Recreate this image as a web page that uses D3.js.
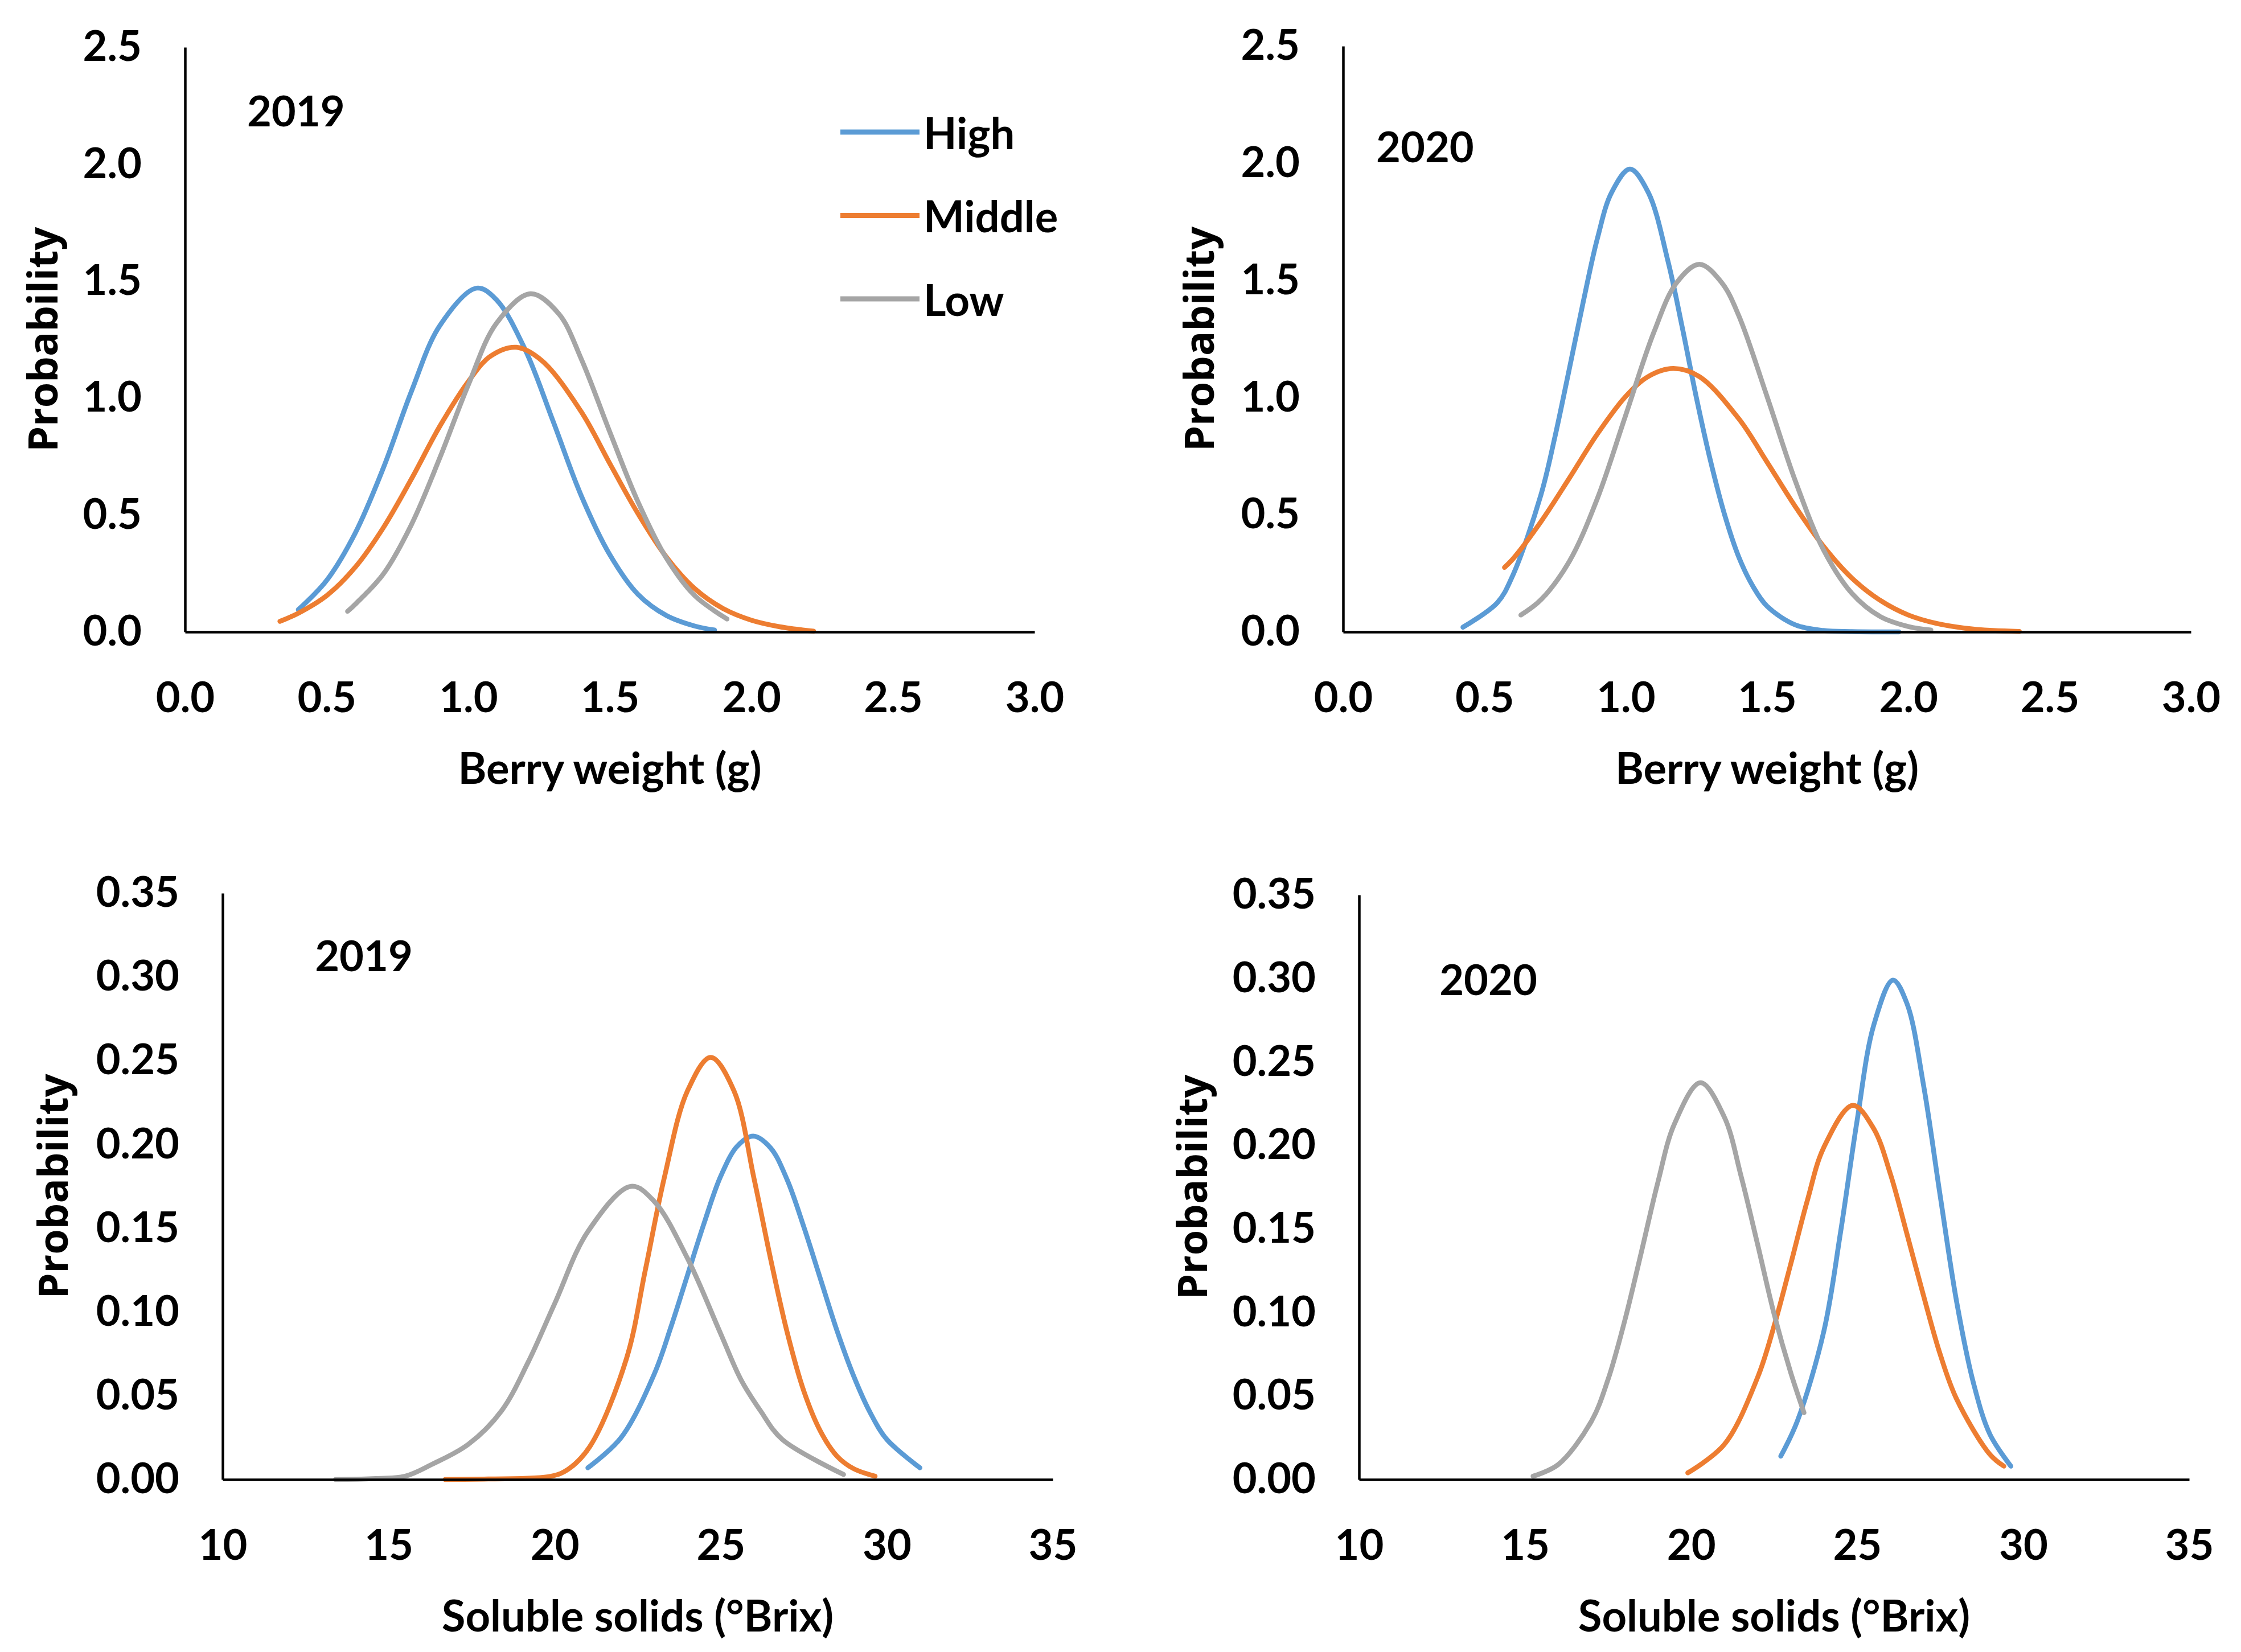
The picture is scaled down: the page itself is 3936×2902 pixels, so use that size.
<!DOCTYPE html>
<html>
<head>
<meta charset="utf-8">
<script src="https://cdnjs.cloudflare.com/ajax/libs/d3/7.8.5/d3.min.js"></script>
<style>
  body { margin: 0; background: #fff; }
  svg { display: block; }
</style>
</head>
<body>
<svg id="chart"></svg>
<script>
// series names + colours
const seriesNames = ["High", "Middle", "Low"];
const seriesColors = ["#5B9BD5", "#ED7D31", "#A5A5A5"];

// tick labels
const bwXTicks = [0, 0.5, 1.0, 1.5, 2.0, 2.5, 3.0];
const bwYTicks = [0, 0.5, 1.0, 1.5, 2.0, 2.5];
const ssXTicks = [10, 15, 20, 25, 30, 35];
const ssYTicks = [0, 0.05, 0.10, 0.15, 0.20, 0.25, 0.30, 0.35];

// berry weight 2019  [g, probability]
const bw2019High = [[0.40,0.095],[0.50,0.22],[0.60,0.42],[0.70,0.70],[0.80,1.03],[0.90,1.31],[1.03,1.47],[1.10,1.42],[1.20,1.21],[1.30,0.90],[1.40,0.58],[1.50,0.33],[1.60,0.16],[1.70,0.07],[1.80,0.025],[1.87,0.008]];
const bw2019Middle = [[0.335,0.045],[0.40,0.08],[0.50,0.155],[0.60,0.275],[0.70,0.445],[0.80,0.655],[0.90,0.88],[1.00,1.07],[1.08,1.18],[1.17,1.217],[1.26,1.16],[1.40,0.94],[1.50,0.72],[1.60,0.505],[1.70,0.32],[1.80,0.185],[1.90,0.10],[2.00,0.05],[2.10,0.022],[2.22,0.003]];
const bw2019Low = [[0.574,0.088],[0.60,0.117],[0.70,0.247],[0.80,0.46],[0.90,0.745],[1.00,1.055],[1.10,1.32],[1.22,1.446],[1.32,1.36],[1.40,1.165],[1.50,0.855],[1.60,0.555],[1.70,0.315],[1.80,0.155],[1.914,0.055]];

// berry weight 2020
const bw2020High = [[0.424,0.02],[0.546,0.125],[0.60,0.24],[0.70,0.585],[0.75,0.835],[0.80,1.12],[0.85,1.41],[0.90,1.68],[0.95,1.875],[1.015,1.975],[1.08,1.875],[1.15,1.58],[1.20,1.30],[1.25,1.00],[1.30,0.73],[1.35,0.50],[1.40,0.32],[1.45,0.195],[1.50,0.11],[1.60,0.03],[1.70,0.006],[1.80,0.001],[1.967,0]];
const bw2020Middle = [[0.571,0.275],[0.60,0.31],[0.70,0.47],[0.80,0.655],[0.90,0.845],[1.00,1.005],[1.08,1.09],[1.168,1.124],[1.26,1.09],[1.40,0.91],[1.50,0.725],[1.60,0.535],[1.70,0.365],[1.80,0.23],[1.90,0.135],[2.00,0.072],[2.10,0.036],[2.20,0.016],[2.30,0.006],[2.393,0.002]];
const bw2020Low = [[0.629,0.072],[0.70,0.137],[0.80,0.30],[0.90,0.57],[1.00,0.925],[1.10,1.28],[1.18,1.49],[1.261,1.569],[1.34,1.49],[1.40,1.35],[1.50,1.005],[1.60,0.645],[1.70,0.35],[1.80,0.165],[1.90,0.066],[2.00,0.023],[2.08,0.008]];

// soluble solids 2019  [°Brix, probability]
const ss2019High = [[21.0,0.007],[22,0.025],[23,0.063],[23.5,0.091],[24,0.122],[24.5,0.153],[25,0.181],[25.5,0.199],[25.98,0.205],[26.5,0.198],[27,0.179],[27.5,0.151],[28,0.120],[28.5,0.089],[29,0.062],[29.5,0.040],[30,0.024],[31,0.007]];
const ss2019Middle = [[16.7,0],[18,0.0003],[19.9,0.002],[20.4,0.006],[21.07,0.020],[22.16,0.072],[22.73,0.125],[23.3,0.18],[24,0.232],[24.7,0.252],[25.4,0.232],[26,0.18],[26.5,0.132],[27,0.088],[27.5,0.053],[28,0.029],[28.5,0.014],[29,0.0065],[29.65,0.002]];
const ss2019Low = [[13.4,0],[14.5,0.0005],[15.5,0.002],[16.3,0.009],[17.4,0.021],[18.4,0.041],[19.2,0.070],[20,0.105],[21,0.148],[22.3,0.175],[23,0.166],[24,0.132],[25,0.087],[25.6,0.060],[26.2,0.041],[26.85,0.024],[28.7,0.003]];

// soluble solids 2020
const ss2020High = [[22.7,0.014],[23.2,0.035],[24,0.089],[24.5,0.148],[25,0.215],[25.5,0.272],[26.08,0.299],[26.5,0.285],[27,0.236],[27.5,0.170],[28,0.106],[28.5,0.058],[29,0.027],[29.63,0.008]];
const ss2020Middle = [[19.9,0.004],[21,0.021],[22,0.061],[22.5,0.092],[23,0.129],[23.5,0.167],[24,0.199],[24.87,0.224],[25.5,0.210],[26,0.183],[26.5,0.147],[27,0.11],[27.5,0.075],[28,0.048],[29,0.015],[29.42,0.008]];
const ss2020Low = [[15.24,0.002],[16,0.009],[17,0.035],[17.5,0.060],[18,0.095],[18.5,0.136],[19,0.178],[19.5,0.213],[20.28,0.2375],[21,0.217],[21.5,0.182],[22,0.141],[22.5,0.099],[23,0.064],[23.4,0.04]];

const width = 3936, height = 2902;
const numFont = "Lato, 'Open Sans', sans-serif";

const panels = [
  { series: [bw2019High, bw2019Middle, bw2019Low], year: "2019", yearAt: [0.219, 2.162],
    xDomain: [0, 3], yDomain: [0, 2.5], xTicks: bwXTicks, yTicks: bwYTicks, xFmt: ".1f", yFmt: ".1f",
    xTitle: "Berry weight (g)", left: 325, right: 1817, top: 83, bottom: 1110, yTitleOff: 252, legend: true },
  { series: [bw2020High, bw2020Middle, bw2020Low], year: "2020", yearAt: [0.117, 2.004],
    xDomain: [0, 3], yDomain: [0, 2.5], xTicks: bwXTicks, yTicks: bwYTicks, xFmt: ".1f", yFmt: ".1f",
    xTitle: "Berry weight (g)", left: 2359, right: 3848, top: 81, bottom: 1110, yTitleOff: 255 },
  { series: [ss2019High, ss2019Middle, ss2019Low], year: "2019", yearAt: [12.78, 0.3034],
    xDomain: [10, 35], yDomain: [0, 0.35], xTicks: ssXTicks, yTicks: ssYTicks, xFmt: "d", yFmt: ".2f",
    xTitle: "Soluble solids (°Brix)", left: 391, right: 1849, top: 1569, bottom: 2599, yTitleOff: 300 },
  { series: [ss2020High, ss2020Middle, ss2020Low], year: "2020", yearAt: [12.42, 0.290],
    xDomain: [10, 35], yDomain: [0, 0.35], xTicks: ssXTicks, yTicks: ssYTicks, xFmt: "d", yFmt: ".2f",
    xTitle: "Soluble solids (°Brix)", left: 2387, right: 3845, top: 1572, bottom: 2599, yTitleOff: 295 }
];

const svg = d3.select("#chart")
  .attr("width", width)
  .attr("height", height);

svg.append("rect")
  .attr("width", width)
  .attr("height", height)
  .attr("fill", "#fff");

panels.forEach((p) => {
  const x = d3.scaleLinear().domain(p.xDomain).range([p.left, p.right]);
  const y = d3.scaleLinear().domain(p.yDomain).range([p.bottom, p.top]);

  const g = svg.append("g");

  // curves (smoothed like excel's scatter lines)
  const line = d3.line()
    .x((d) => x(d[0]))
    .y((d) => y(d[1]))
    .curve(d3.curveCatmullRom.alpha(0.5));

  p.series.forEach((s, i) => {
    g.append("path")
      .datum(s)
      .attr("fill", "none")
      .attr("stroke", seriesColors[i])
      .attr("stroke-width", 8.5)
      .attr("stroke-linecap", "round")
      .attr("stroke-linejoin", "round")
      .attr("d", line);
  });

  // axes
  const xAxis = g.append("g")
    .attr("transform", `translate(0, ${p.bottom})`)
    .call(d3.axisBottom(x).tickValues(p.xTicks).tickFormat(d3.format(p.xFmt)).tickSize(0).tickPadding(88));

  const yAxis = g.append("g")
    .attr("transform", `translate(${p.left}, 0)`)
    .call(d3.axisLeft(y).tickValues(p.yTicks).tickFormat(d3.format(p.yFmt)).tickSize(0).tickPadding(76));

  [xAxis, yAxis].forEach((a) => {
    a.select(".domain").attr("stroke", "#000").attr("stroke-width", 4.5);
    a.selectAll("text")
      .style("font-family", numFont)
      .style("font-size", "74px")
      .style("font-weight", "700")
      .attr("fill", "#000");
  });

  // axis titles
  g.append("text")
    .attr("x", (p.left + p.right) / 2)
    .attr("y", p.bottom + 237)
    .attr("text-anchor", "middle")
    .attr("dominant-baseline", "central")
    .style("font-family", numFont)
    .style("font-size", "76px")
    .style("font-weight", "700")
    .text(p.xTitle);

  g.append("text")
    .attr("transform", `translate(${p.left - p.yTitleOff}, ${(p.top + p.bottom) / 2}) rotate(-90)`)
    .attr("text-anchor", "middle")
    .attr("dominant-baseline", "central")
    .style("font-family", "'Open Sans', 'DejaVu Sans', sans-serif")
    .style("font-size", "72px")
    .style("font-weight", "700")
    .text("Probability");

  // year label
  g.append("text")
    .attr("x", x(p.yearAt[0]))
    .attr("y", y(p.yearAt[1]))
    .style("font-family", numFont)
    .style("font-size", "74px")
    .style("font-weight", "700")
    .text(p.year);

  if (p.legend) {
    const leg = g.append("g").attr("transform", "translate(1476, 232)");
    seriesNames.forEach((name, i) => {
      const row = leg.append("g").attr("transform", `translate(0, ${i * 146.5})`);
      row.append("line")
        .attr("x1", 0).attr("x2", 139)
        .attr("stroke", seriesColors[i])
        .attr("stroke-width", 9);
      row.append("text")
        .attr("x", 146)
        .attr("dominant-baseline", "central")
        .style("font-family", numFont)
        .style("font-size", "76px")
        .style("font-weight", "700")
        .text(name);
    });
  }
});
</script>
</body>
</html>
